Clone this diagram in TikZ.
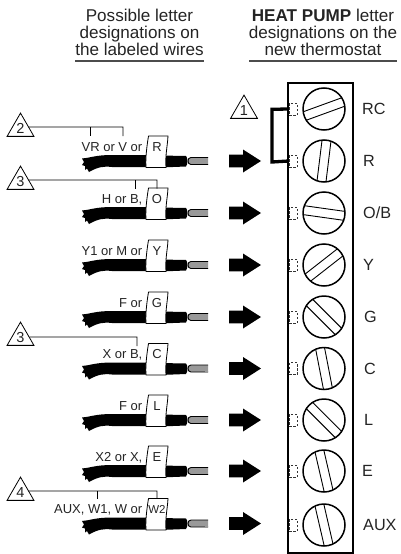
\documentclass[tikz,border=0pt]{standalone}
\usepackage{fontspec}
\setmainfont{Liberation Sans}
\usetikzlibrary{shapes.geometric}
\definecolor{ink}{gray}{0.14}
\tikzset{
  head/.style={font=\fontsize{17.1}{17.1}\selectfont,text=ink,inner sep=0pt,anchor=base},
  rulebar/.style={draw=black!70,line width=1.3pt},
  term/.style={font=\fontsize{16.2}{16.2}\selectfont,text=ink,inner sep=0pt,anchor=base west},
  small/.style={font=\fontsize{13}{13}\selectfont,text=ink,inner sep=0pt},
  note/.style={regular polygon,regular polygon sides=3,draw=black,line width=0.8pt,minimum size=31pt,inner sep=0pt,font=\fontsize{14.5}{14.5}\selectfont,text=ink},
  leader/.style={draw=black,line width=0.8pt},
  screw/.style={circle,draw=black,line width=1.5pt,minimum size=42pt,inner sep=0pt},
  slot/.style={draw=black,line width=0.9pt},
  hole/.style={draw=black!80,dashed,dash pattern=on 2.5pt off 1.5pt,line width=0.8pt,minimum width=8pt,minimum height=12pt,inner sep=0pt},
  jumper/.style={draw=black,line width=3.3pt,line join=miter},
  tagbox/.style={draw=black,line width=0.8pt,fill=white,line join=round},
  tip/.style={draw=black,line width=0.9pt,fill=black!40}
}
\begin{document}
\begin{tikzpicture}[x=1pt,y=-1pt]
\useasboundingbox (0,0) rectangle (400,554);
% headers
\node[head] (h1a) at (139.5,21.7) {Possible letter};
\node[head] (h1b) at (139.5,38.4) {designations on};
\node[head] (h1c) at (139.5,55) {the labeled wires};
\node[head] (h2a) at (323,21.7) {\textbf{HEAT PUMP} letter};
\node[head] (h2b) at (323,38.4) {designations on the};
\node[head] (h2c) at (323,55) {new thermostat};
\draw[rulebar] (75,61) -- (204,61);
\draw[rulebar] (249,61) -- (397,61);
% terminal block
\draw[black,line width=2pt] (288,83) rectangle (353,553);
\foreach \n/\y/\a/\tx in {RC/109/20/362,R/161/83/363,OB/213/-8/363,Y/265/38/363,G/317/-45/364,C/368.5/-79/364,L/420/-45/364,E/471/-77/362,AUX/525/-77/363}{
  \node[screw] (s\n) at (324,\y) {};
  \begin{scope}[shift={(324,\y)},rotate=\a]
    \draw[slot] (-20.3pt,4.5pt) -- (20.3pt,4.5pt);
    \draw[slot] (-20.3pt,-4.5pt) -- (20.3pt,-4.5pt);
  \end{scope}
  \node[hole] (d\n) at (293,\y) {};
}
\node[term] (tRC) at (362,114.7) {RC};
\node[term] (tR) at (363,166.7) {R};
\node[term] (tOB) at (363,218.7) {O/B};
\node[term] (tY) at (363,270.7) {Y};
\node[term] (tG) at (364,322.7) {G};
\node[term] (tC) at (364,374.2) {C};
\node[term] (tL) at (364,425.7) {L};
\node[term] (tE) at (362,476.7) {E};
\node[term] (tAUX) at (363,530.7) {AUX};
% jumper
\coordinate (jt) at (272,109.3);
\coordinate (jb) at (272,162);
\draw[jumper] (dRC.west) -- (jt) -- (jb) -- (dR.west);
% wires, tags, arrows
\foreach \w/\lt/\tg/\ts in {161/VR or V or/R/13,213/{H or B,}/O/13,265/Y1 or M or/Y/13,317/F or/G/13,368.5/{X or B,}/C/13,420/F or/L/13,471/{X2 or X,}/E/13,523.5/{AUX, W1, W or}/W2/11.5}{
  \begin{scope}[shift={(0,\w)}]
    \fill[black] (82,-2.5) .. controls (90,-3) and (95,-6) .. (112,-6) -- (150,-6) -- (150,6) -- (112,6)
       .. controls (103,5) and (98,6) .. (89,11) -- (87,7.5) -- (85,9) -- (85,5) -- (82,4) -- (84,1) -- cycle;
    \fill[black] (160,-5.5) -- (186,-5) .. controls (188,-3) and (188,3) .. (186,5.5) -- (160,6.5) -- cycle;
    \draw[tip] (208,-3.5) -- (191,-3.5) .. controls (187,-3.5) and (187,3.5) .. (191,3.5) -- (208,3.5);
    \fill[black!40] (205,-3) -- (208,-3) -- (208,3) -- (205,3) -- cycle;
    \draw[tagbox] (148.5,-25) -- (168,-25) .. controls (167.5,-15) and (165,-5) .. (166,6.5) -- (146,6.5) .. controls (145.5,0) and (146,-10) .. (148.5,-25) -- cycle;
    \fill[black] (229,-6.4) -- (243,-6.4) -- (243,-11.5) -- (261,0) -- (243,11.5) -- (243,6.4) -- (229,6.4) -- cycle;
  \end{scope}
  \node[small,anchor=base,font=\fontsize{\ts}{\ts}\selectfont] (tag\tg) at (157,\w-10) {\tg};
  \node[small,anchor=base east] (lab\tg) at (142.5,\w-10) {\lt};
}
% note triangles and leaders
\node[note] (t1) at (244,110.6) {1};
\node[note] (t2) at (20.5,128.6) {2};
\node[note] (t3a) at (20.5,181.6) {3};
\node[note] (t3b) at (20.5,337.6) {3};
\node[note] (t4) at (20.5,492.6) {4};
\coordinate (n2a) at (90,127); \coordinate (n2e) at (123,127);
\coordinate (n3a) at (135,180); \coordinate (n3e) at (157,180);
\coordinate (n3c) at (137,337);
\coordinate (n4a) at (97,491); \coordinate (n4e) at (157,491);
\draw[leader] ([shift={(-1pt,1.6pt)}]t2.east) -- (n2e) -- ++(0,9);
\draw[leader] (n2a) -- ++(0,9);
\draw[leader] ([shift={(-1pt,1.6pt)}]t3a.east) -- (n3e) -- ++(0,8.5);
\draw[leader] (n3a) -- ++(0,9);
\draw[leader] ([shift={(-0.4pt,0.6pt)}]t3b.east) -- (n3c) -- ++(0,9);
\draw[leader] ([shift={(-1pt,1.6pt)}]t4.east) -- (n4e) -- ++(0,7.5);
\draw[leader] (n4a) -- ++(0,8);
\end{tikzpicture}
\end{document}
